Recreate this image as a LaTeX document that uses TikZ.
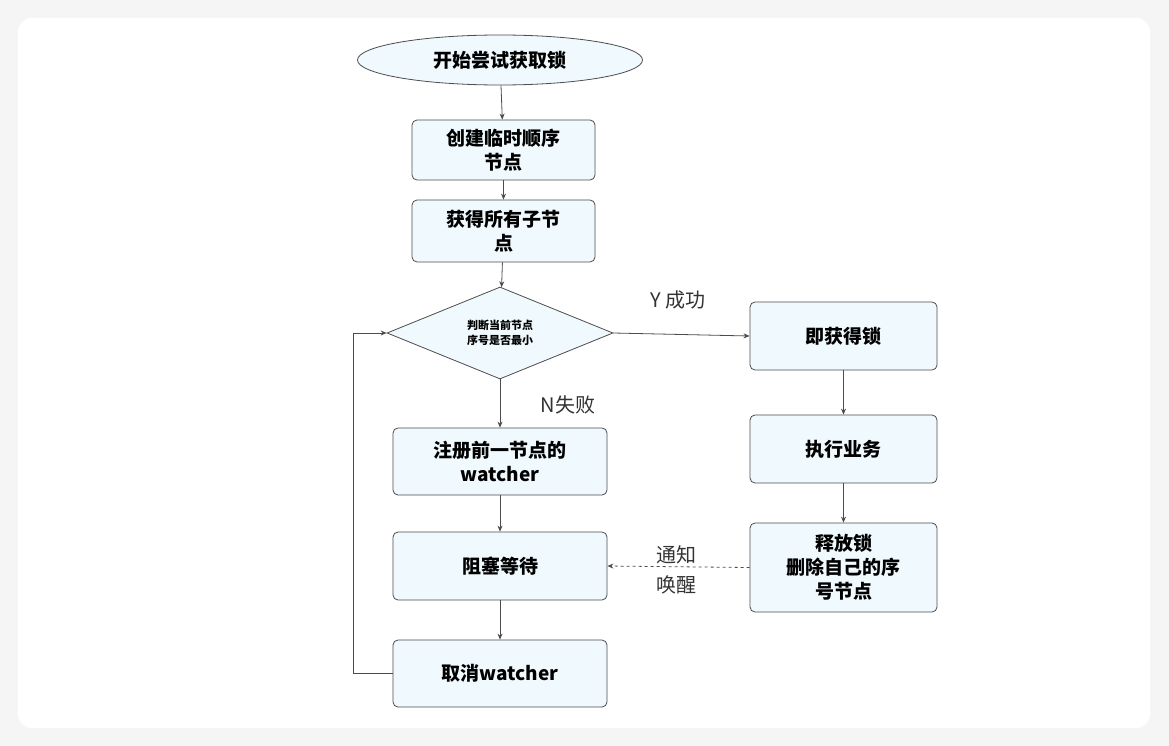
\documentclass[tikz,border=0pt]{standalone}
\usepackage{fontspec}
\setmainfont{Noto Sans CJK SC}
\usetikzlibrary{shapes.geometric,arrows.meta}
\begin{document}
\begin{tikzpicture}[x=1pt,y=-1pt,
  box/.style={draw=black!70,fill=cyan!6,rounded corners=5pt,line width=0.8pt,align=center,font=\bfseries\fontsize{19}{24}\selectfont,inner sep=0pt},
  arr/.style={-{Stealth[length=6pt,width=5pt]},draw=black!70,line width=0.8pt},
  lbl/.style={font=\fontsize{20}{25}\selectfont,text=black!80,align=center}]
\useasboundingbox (0,0) rectangle (1169,746);
\fill[black!4] (0,0) rectangle (1169,746);
\fill[white,rounded corners=14pt] (18,18) rectangle (1150,728);
\node[draw=black!70,fill=cyan!6,ellipse,line width=0.8pt,minimum width=285pt,minimum height=50pt,font=\bfseries\fontsize{19}{24}\selectfont] (s) at (500,60) {开始尝试获取锁};
\node[box,minimum width=183pt,minimum height=60pt] (b1) at (503.5,150) {创建临时顺序\\节点};
\node[box,minimum width=183pt,minimum height=62pt] (b2) at (503.5,231) {获得所有子节\\点};
\node[draw=black!70,fill=cyan!6,diamond,aspect=2.45,line width=0.8pt,inner sep=0pt,minimum width=226pt,minimum height=92pt,align=center,font=\bfseries\fontsize{11}{15}\selectfont] (d) at (500,333) {判断当前节点\\序号是否最小};
\node[box,minimum width=187pt,minimum height=68pt] (r1) at (843.5,336) {即获得锁};
\node[box,minimum width=187pt,minimum height=68pt] (r2) at (843.5,449) {执行业务};
\node[box,minimum width=187pt,minimum height=89pt] (r3) at (843.5,567.5) {释放锁\\删除自己的序\\号节点};
\node[box,minimum width=214pt,minimum height=67pt] (l1) at (500,461.5) {注册前一节点的\\watcher};
\node[box,minimum width=214pt,minimum height=68pt] (l2) at (500,566) {阻塞等待};
\node[box,minimum width=214pt,minimum height=67pt] (l3) at (500,673.5) {取消watcher};
\draw[arr] (s) -- (b1);
\draw[arr] (b1) -- (b2);
\draw[arr] (b2) -- (d);
\draw[arr] (d.east) -- (r1.west);
\draw[arr] (d.south) -- (l1.north);
\draw[arr] (r1) -- (r2);
\draw[arr] (r2) -- (r3);
\draw[arr] (l1) -- (l2);
\draw[arr] (l2) -- (l3);
\draw[arr,dashed] (r3.west) -- (l2.east);
\draw[arr] (l3.west) -- (353,673.5) -- (353,333) -- (d.west);
\node[lbl] at (678,300) {Y 成功};
\node[lbl] at (568,405) {N失败};
\node[lbl,font=\fontsize{20}{30}\selectfont] at (676,570) {通知\\唤醒};
\end{tikzpicture}
\end{document}
